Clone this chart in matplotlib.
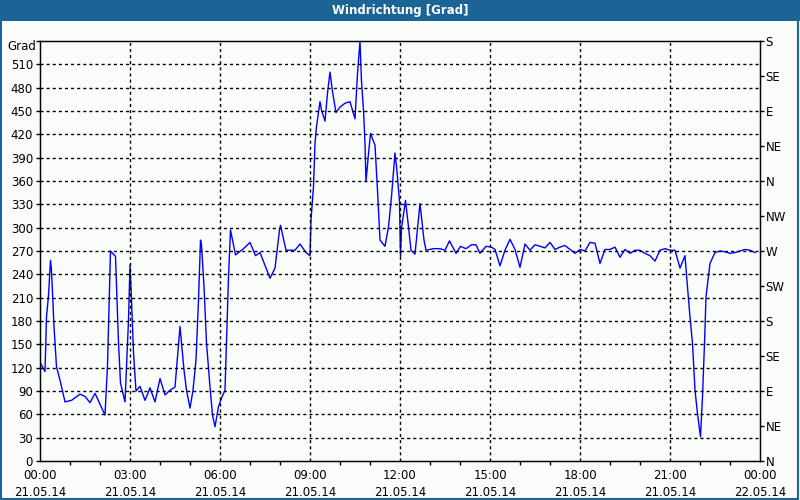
import matplotlib
matplotlib.use("Agg")
from matplotlib import pyplot as plt
from matplotlib.patches import Rectangle

# minutes after 21.05.14 00:00 and wind direction in degrees
minutes = [0, 10, 13, 17, 21, 23, 28, 33, 40, 50, 63, 80, 90, 100, 110, 130, 135, 141, 151, 157,
           161, 170, 177, 180, 183, 187, 192, 200, 210, 220, 230, 240, 250, 260, 270, 275, 280, 283,
           288, 293, 300, 306, 312, 317, 321, 323, 328, 333, 340, 345, 350, 357, 363, 370, 377, 381,
           391, 407, 420, 431, 440, 460, 470, 479, 481, 492, 510, 520, 532, 540, 542, 547, 550, 553,
           560, 563, 570, 575, 580, 585, 592, 600, 610, 620, 625, 630, 635, 640, 643, 647, 650, 652,
           657, 661, 670, 675, 680, 690, 697, 703, 710, 713, 719, 721, 723, 731, 737, 742, 750, 760,
           768, 772, 787, 800, 810, 819, 832, 841, 852, 863, 872, 880, 892, 903, 910, 920, 930, 940,
           950, 960, 970, 980, 990, 1000, 1010, 1020, 1030, 1040, 1050, 1060, 1070, 1080, 1090, 1100,
           1110, 1120, 1130, 1140, 1150, 1160, 1170, 1180, 1190, 1200, 1210, 1220, 1230, 1240, 1250,
           1260, 1270, 1280, 1290, 1293, 1300, 1305, 1310, 1315, 1321, 1325, 1329, 1332, 1340, 1350,
           1360, 1370, 1380, 1390, 1400, 1410, 1420, 1430]
grad = [127, 115, 185, 213, 258, 245, 173, 121, 104, 76, 78, 86, 83, 75, 87, 59, 123, 270, 263, 152,
        100, 76, 181, 252, 207, 139, 90, 96, 78, 94, 76, 106, 85, 91, 95, 134, 173, 152,
        117, 91, 68, 91, 130, 207, 284, 278, 224, 152, 95, 59, 44, 70, 81, 91, 237, 297,
        265, 273, 281, 264, 268, 235, 248, 297, 303, 271, 271, 279, 268, 264, 310, 353, 408, 430,
        462, 451, 437, 473, 500, 475, 448, 455, 460, 462, 451, 440, 498, 540, 488, 451, 408, 359,
        395, 421, 406, 348, 284, 276, 301, 340, 396, 379, 334, 263, 299, 335, 301, 271, 266, 331,
        284, 271, 273, 273, 271, 283, 267, 276, 273, 278, 278, 267, 276, 275, 272, 251, 271, 285,
        272, 249, 279, 271, 278, 276, 274, 281, 272, 275, 277, 272, 267, 272, 270, 281,
        280, 254, 272, 272, 275, 262, 272, 267, 271, 271, 267, 264, 257, 271, 273,
        271, 271, 248, 264, 239, 185, 151, 91, 61, 31, 83, 151, 211, 254, 268,
        270, 269, 267, 268, 270, 272, 271, 268]

y_ticks = list(range(0, 541, 30))
dir_ticks = list(range(0, 541, 45))
dir_labels = ["N", "NE", "E", "SE", "S", "SW", "W", "NW", "N", "NE", "E", "SE", "S"]
x_ticks = list(range(0, 1441, 180))
x_labels = ["00:00\n21.05.14", "03:00\n21.05.14", "06:00\n21.05.14", "09:00\n21.05.14",
            "12:00\n21.05.14", "15:00\n21.05.14", "18:00\n21.05.14", "21:00\n21.05.14",
            "00:00\n22.05.14"]

bg = "#fafcf9"
bar = "#1c6496"

fig = plt.figure(figsize=(8, 5), dpi=100, facecolor=bg)
ax = fig.add_axes([40 / 800, 39 / 500, 720 / 800, 420 / 500], facecolor=bg)

ax.plot(minutes, grad, color="#0000ff", lw=1)
ax.set_xlim(0, 1440)
ax.set_ylim(0, 540)

ax.set_yticks(y_ticks)
ax.set_yticklabels([str(v) if v < 540 else "" for v in y_ticks])
ax.set_xticks(x_ticks)
ax.set_xticklabels(x_labels, linespacing=1.35)
ax.set_xticks(range(0, 1441, 60), minor=True)
ax.tick_params(axis="both", which="major", labelsize=8.5, length=3, width=1, color="black", pad=2)
ax.tick_params(axis="x", which="major", length=0, pad=6)
ax.tick_params(axis="x", which="minor", length=3, width=1)

for v in y_ticks[1:-1]:
    ax.axhline(v, color="black", lw=1, dashes=(2.2, 2.2))
for v in x_ticks[1:-1]:
    ax.axvline(v, color="black", lw=1, dashes=(2.2, 2.2))

for s in ax.spines.values():
    s.set_color("black")
    s.set_linewidth(1)

ax2 = ax.twinx()
ax2.set_ylim(0, 540)
ax2.set_yticks(dir_ticks)
ax2.set_yticklabels(dir_labels)
ax2.tick_params(axis="y", labelsize=8.5, length=3, width=1, pad=1)

fig.text(36 / 800, 1 - 46 / 500, "Grad", ha="right", va="center", fontsize=8.5)

# title bar and frame
fig.patches.append(Rectangle((0, 1 - 21 / 500), 1, 21 / 500, transform=fig.transFigure,
                             facecolor=bar, edgecolor="none", zorder=0))
fig.patches.append(Rectangle((0.001, 0.002), 0.997, 0.99, transform=fig.transFigure,
                             facecolor="none", edgecolor=bar, lw=1.5, zorder=0))
fig.text(0.5, 1 - 10.5 / 500, "Windrichtung [Grad]", ha="center", va="center",
         color="white", fontsize=8.5, fontweight="bold")

fig.savefig("out.png", dpi=100, facecolor=bg)
